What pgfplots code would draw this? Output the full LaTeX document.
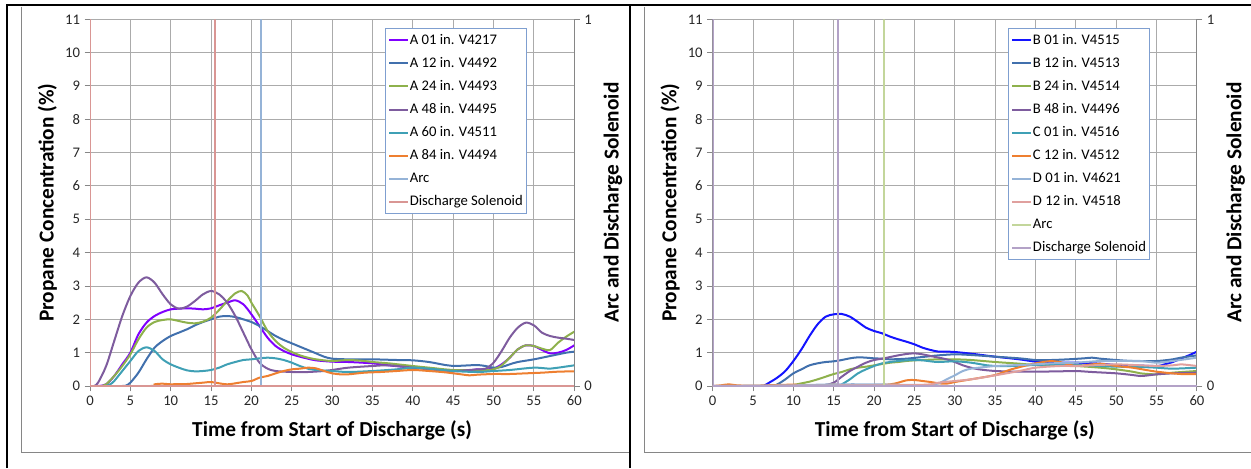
\documentclass[border=0pt]{standalone}
\usepackage{fontspec}
\setmainfont{Carlito}
\usepackage{pgfplots}
\pgfplotsset{compat=1.18}
\definecolor{cA01}{HTML}{8000FF}
\definecolor{cB01}{HTML}{1414FF}
\definecolor{c12}{HTML}{4170AD}
\definecolor{c24}{HTML}{8EB14C}
\definecolor{c48}{HTML}{7E5C9E}
\definecolor{c60}{HTML}{3FA0B5}
\definecolor{c84}{HTML}{EE7F30}
\definecolor{cArcL}{HTML}{95B3D7}
\definecolor{cSolL}{HTML}{D99694}
\definecolor{cD01}{HTML}{95B3D7}
\definecolor{cD12}{HTML}{E0A09E}
\definecolor{cArcR}{HTML}{C3D69B}
\definecolor{cSolR}{HTML}{B3A2C7}
\definecolor{gridc}{HTML}{ABABAB}
\definecolor{axisc}{HTML}{868686}
\definecolor{legc}{HTML}{7F9FD0}
\pgfplotsset{
  panel/.style={anchor=south west, scale only axis, width=363.2pt, height=275pt,
    xmin=0, xmax=60, ymin=0, ymax=11,
    xtick={0,5,...,60}, ytick={0,1,...,11},
    grid=major, grid style={gridc, line width=0.75pt},
    axis x line*=bottom, axis y line*=left,
    axis line style={axisc, line width=0.75pt, -},
    tick align=outside, major tick length=4pt, tick style={axisc, line width=0.75pt},
    ticklabel style={font=\fontsize{11}{13}\selectfont, text=black!85},
    /pgf/number format/assume math mode=true,
    xlabel={Time from Start of Discharge (s)}, ylabel={Propane Concentration (\%)},
    every axis x label/.style={at={(rel axis cs:0.5,0)}, yshift=-33pt, anchor=center,
      font=\fontsize{16}{19}\bfseries\selectfont},
    every axis y label/.style={at={(rel axis cs:0,0.5)}, xshift=-32pt, anchor=center, rotate=90,
      font=\fontsize{16}{19}\bfseries\selectfont},
  },
  sec/.style={anchor=south west, scale only axis, width=363.2pt, height=275pt,
    xmin=0, xmax=60, ymin=0, ymax=1, ytick={0,1},
    axis x line=none, axis y line*=right,
    axis line style={axisc, line width=0.75pt, -},
    tick align=outside, major tick length=4pt, tick style={axisc, line width=0.75pt},
    ticklabel style={font=\fontsize{11}{13}\selectfont, text=black!85},
    /pgf/number format/assume math mode=true,
    ylabel={Arc and Discharge Solenoid},
    every axis y label/.style={at={(rel axis cs:1,0.5)}, xshift=29pt, anchor=center, rotate=90,
      font=\fontsize{16}{19}\bfseries\selectfont},
    legend cell align=left,
    legend image code/.code={\draw[#1] (0pt,0pt) -- (14pt,0pt);},
    legend style={anchor=north west, draw=legc, line width=0.75pt, fill=white,
      inner xsep=2pt, inner ysep=0pt, row sep=0pt,
      font=\fontsize{11}{13}\selectfont,
      nodes={inner xsep=0.8pt, inner ysep=3.4pt, text height=8pt, text depth=2.5pt}},
  },
  data/.style={line width=1.5pt, smooth, tension=0.5},
  step/.style={line width=1.5pt},
}
\begin{document}
\begin{tikzpicture}
\useasboundingbox (0,0) rectangle (938.25pt,351pt);
% ---------------- Left panel ----------------
\begin{axis}[panel, at={(67.5pt,61.5pt)}]
\addplot[data, cA01] coordinates {(0,0)(1,0)(2,0.05)(3,0.3)(4,0.65)(5,1.0)(6,1.55)(7,1.9)(8,2.1)(9,2.22)(10,2.3)(11,2.32)(12,2.33)(13,2.32)(14,2.3)(15,2.33)(16,2.42)(17,2.5)(18,2.57)(19,2.45)(20,2.15)(21,1.8)(22,1.45)(23,1.2)(24,1.05)(25,0.95)(26,0.88)(27,0.82)(28,0.77)(30,0.73)(32,0.72)(35,0.68)(37,0.62)(40,0.55)(42,0.52)(45,0.45)(47,0.47)(48,0.5)(49,0.5)(50,0.52)(51,0.65)(52,0.85)(53,1.1)(54,1.22)(55,1.2)(56,1.08)(57,0.98)(58,1.0)(59,1.08)(60,1.22)};
\addplot[data, c12] coordinates {(0,0)(4,0)(4.5,0.02)(5,0.1)(6,0.4)(7,0.8)(8,1.15)(9,1.35)(10,1.5)(11,1.6)(12,1.7)(13,1.82)(14,1.92)(15,2.0)(16,2.08)(17,2.1)(18,2.07)(19,2.0)(20,1.92)(21,1.8)(22,1.65)(23,1.5)(24,1.38)(25,1.28)(26,1.18)(27,1.08)(28,0.98)(29,0.88)(30,0.82)(32,0.8)(35,0.8)(38,0.78)(40,0.77)(42,0.72)(44,0.63)(45,0.6)(47,0.62)(48,0.63)(49,0.6)(50,0.55)(51,0.57)(52,0.65)(53,0.72)(55,0.8)(57,0.9)(58,0.95)(59,1.0)(60,1.03)};
\addplot[data, c24] coordinates {(0,0)(1.5,0)(2,0.05)(3,0.3)(4,0.6)(5,0.95)(6,1.4)(7,1.75)(8,1.92)(9,1.98)(10,2.0)(11,1.95)(12,1.9)(13,1.88)(14,1.93)(15,2.05)(16,2.28)(17,2.55)(18,2.78)(18.8,2.85)(19.5,2.72)(20,2.5)(21,2.1)(22,1.65)(23,1.35)(24,1.15)(25,1.02)(26,0.92)(27,0.85)(28,0.8)(30,0.75)(32,0.78)(34,0.75)(35,0.72)(37,0.68)(40,0.6)(42,0.55)(45,0.48)(48,0.48)(50,0.5)(51,0.62)(52,0.85)(53,1.1)(54,1.22)(55,1.2)(56,1.12)(57,1.08)(58,1.3)(59,1.48)(60,1.63)};
\addplot[data, c48] coordinates {(0,0)(0.5,0)(1,0.1)(2,0.6)(3,1.35)(4,2.1)(5,2.7)(6,3.1)(7,3.26)(8,3.1)(9,2.75)(10,2.45)(11,2.32)(12,2.38)(13,2.55)(14,2.75)(15,2.85)(16,2.75)(17,2.5)(18,2.1)(19,1.6)(20,1.1)(21,0.7)(22,0.52)(23,0.45)(25,0.42)(27,0.42)(29,0.45)(30,0.48)(32,0.55)(35,0.6)(37,0.62)(40,0.55)(42,0.5)(45,0.45)(47,0.48)(48,0.5)(49,0.52)(50,0.7)(51,1.05)(52,1.45)(53,1.75)(54,1.9)(55,1.82)(56,1.6)(57,1.5)(58,1.45)(59,1.42)(60,1.38)};
\addplot[data, c60] coordinates {(0,0)(2,0)(2.5,0.05)(3,0.15)(4,0.45)(5,0.75)(6,1.05)(7,1.16)(8,1.05)(9,0.8)(10,0.65)(11,0.55)(12,0.47)(13,0.44)(14,0.45)(15,0.48)(16,0.55)(17,0.65)(18,0.72)(19,0.78)(20,0.8)(21,0.83)(22,0.85)(23,0.83)(24,0.78)(25,0.7)(26,0.6)(27,0.52)(28,0.48)(30,0.45)(32,0.42)(35,0.45)(38,0.5)(40,0.55)(42,0.52)(45,0.45)(48,0.42)(50,0.45)(52,0.48)(55,0.55)(57,0.52)(58,0.55)(60,0.62)};
\addplot[data, c84] coordinates {(0,0)(7.5,0)(8,0.05)(9,0.07)(10,0.05)(11,0.06)(12,0.06)(13,0.08)(14,0.1)(15,0.12)(16,0.08)(17,0.05)(18,0.08)(19,0.12)(20,0.15)(21,0.25)(22,0.3)(23,0.38)(24,0.45)(25,0.5)(26,0.52)(27,0.55)(28,0.53)(29,0.45)(30,0.38)(31,0.35)(32,0.35)(34,0.4)(36,0.42)(38,0.45)(40,0.48)(42,0.45)(44,0.41)(46,0.35)(47,0.32)(48,0.34)(50,0.36)(52,0.36)(54,0.38)(56,0.4)(58,0.43)(60,0.44)};
\end{axis}
\begin{axis}[sec, at={(67.5pt,61.5pt)}, legend style={at={(0.609,0.9755)}}]
\addlegendimage{data, cA01}\addlegendentry{A 01 in. V4217}
\addlegendimage{data, c12}\addlegendentry{A 12 in. V4492}
\addlegendimage{data, c24}\addlegendentry{A 24 in. V4493}
\addlegendimage{data, c48}\addlegendentry{A 48 in. V4495}
\addlegendimage{data, c60}\addlegendentry{A 60 in. V4511}
\addlegendimage{data, c84}\addlegendentry{A 84 in. V4494}
\addplot[step, cArcL] coordinates {(0,0)(21.2,0)(21.2,1)(21.2,0)(60,0)};
\addlegendentry{Arc}
\addplot[step, cSolL] coordinates {(0,1)(0,0)(15.5,0)(15.5,1)(15.5,0)(60,0)};
\addlegendentry{Discharge Solenoid}
\end{axis}
% ---------------- Right panel ----------------
\begin{axis}[panel, at={(534.5pt,61.5pt)}]
\addplot[data, cB01] coordinates {(0,0)(6,0)(6.5,0.03)(7,0.1)(8,0.25)(9,0.45)(10,0.75)(11,1.1)(12,1.5)(13,1.85)(14,2.08)(15,2.15)(16,2.16)(17,2.08)(18,1.92)(19,1.75)(20,1.65)(21,1.58)(22,1.48)(23,1.4)(24,1.33)(25,1.25)(26,1.15)(27,1.08)(28,1.03)(29,1.03)(30,1.02)(32,0.97)(35,0.88)(38,0.8)(40,0.73)(42,0.7)(45,0.7)(48,0.67)(50,0.63)(52,0.62)(55,0.6)(56,0.65)(57,0.72)(58,0.82)(59,0.92)(60,1.03)};
\addplot[data, c12] coordinates {(0,0)(7,0)(8,0.05)(9,0.2)(10,0.38)(11,0.5)(12,0.62)(13,0.68)(14,0.72)(15,0.74)(16,0.78)(17,0.83)(18,0.86)(19,0.85)(20,0.83)(21,0.82)(22,0.8)(24,0.82)(26,0.87)(28,0.92)(30,0.95)(32,0.93)(35,0.88)(38,0.83)(40,0.78)(42,0.78)(44,0.8)(46,0.83)(47,0.85)(48,0.82)(50,0.78)(52,0.75)(55,0.75)(57,0.8)(58,0.85)(60,0.92)};
\addplot[data, c24] coordinates {(0,0)(9,0)(10,0.03)(11,0.08)(12,0.13)(13,0.2)(14,0.28)(15,0.36)(16,0.42)(17,0.5)(18,0.55)(19,0.58)(20,0.62)(21,0.66)(22,0.7)(23,0.72)(24,0.75)(25,0.77)(26,0.78)(28,0.8)(30,0.8)(32,0.78)(35,0.72)(38,0.67)(40,0.63)(42,0.62)(45,0.6)(48,0.55)(50,0.5)(52,0.43)(53,0.38)(55,0.35)(57,0.4)(60,0.45)};
\addplot[data, c48] coordinates {(0,0)(13,0)(14,0.03)(15,0.1)(16,0.28)(17,0.45)(18,0.58)(19,0.7)(20,0.78)(21,0.82)(22,0.87)(23,0.92)(24,0.96)(25,0.98)(26,0.95)(27,0.9)(28,0.85)(29,0.8)(30,0.72)(31,0.62)(32,0.55)(33,0.5)(35,0.45)(38,0.43)(40,0.43)(43,0.44)(45,0.45)(47,0.42)(50,0.38)(52,0.33)(53,0.3)(54,0.32)(55,0.35)(57,0.38)(60,0.4)};
\addplot[data, c60] coordinates {(0,0)(15.5,0)(16,0.05)(17,0.2)(18,0.38)(19,0.5)(20,0.6)(21,0.68)(22,0.72)(23,0.75)(24,0.77)(25,0.78)(26,0.77)(27,0.74)(28,0.72)(30,0.74)(32,0.7)(34,0.62)(35,0.6)(37,0.6)(40,0.63)(43,0.65)(45,0.63)(48,0.6)(50,0.58)(53,0.57)(55,0.55)(57,0.52)(60,0.55)};
\addplot[data, c84] coordinates {(0,0)(1,0.02)(2,0.05)(3,0.02)(5,0.01)(8,0.03)(10,0.04)(12,0.02)(14,0.03)(15,0.05)(16,0.02)(18,0.02)(20,0.03)(22,0.05)(23,0.1)(24,0.17)(25,0.18)(26,0.15)(27,0.12)(28,0.08)(29,0.07)(30,0.12)(32,0.2)(35,0.33)(37,0.5)(40,0.68)(42,0.75)(43,0.72)(45,0.6)(47,0.65)(48,0.67)(50,0.6)(52,0.55)(55,0.43)(58,0.36)(60,0.36)};
\addplot[data, cD01] coordinates {(0,0)(5,0.01)(10,0.02)(15,0.05)(20,0.05)(25,0.03)(27,0.03)(28,0.08)(29,0.2)(30,0.32)(31,0.45)(32,0.52)(33,0.55)(35,0.6)(37,0.62)(40,0.65)(42,0.68)(45,0.7)(48,0.75)(50,0.75)(53,0.75)(55,0.7)(57,0.75)(60,0.85)};
\addplot[data, cD12] coordinates {(0,0)(20,0.02)(25,0.03)(27,0.05)(28,0.1)(30,0.15)(32,0.2)(35,0.32)(38,0.45)(40,0.55)(43,0.6)(45,0.6)(48,0.63)(50,0.65)(53,0.62)(55,0.6)(57,0.62)(58,0.65)(60,0.6)};
\end{axis}
\begin{axis}[sec, at={(534.5pt,61.5pt)}, legend style={at={(0.610,0.9755)}}]
\addlegendimage{data, cB01}\addlegendentry{B 01 in. V4515}
\addlegendimage{data, c12}\addlegendentry{B 12 in. V4513}
\addlegendimage{data, c24}\addlegendentry{B 24 in. V4514}
\addlegendimage{data, c48}\addlegendentry{B 48 in. V4496}
\addlegendimage{data, c60}\addlegendentry{C 01 in. V4516}
\addlegendimage{data, c84}\addlegendentry{C 12 in. V4512}
\addlegendimage{data, cD01}\addlegendentry{D 01 in. V4621}
\addlegendimage{data, cD12}\addlegendentry{D 12 in. V4518}
\addplot[step, cArcR] coordinates {(0,0)(21.2,0)(21.2,1)(21.2,0)(60,0)};
\addlegendentry{Arc}
\addplot[step, cSolR] coordinates {(0,1)(0,0)(15.5,0)(15.5,1)(15.5,0)(60,0)};
\addlegendentry{Discharge Solenoid}
\end{axis}
% ---------------- frames ----------------
\draw[axisc, line width=0.75pt] (16.3pt,346pt) -- (16.3pt,11.5pt) -- (472pt,11.5pt);
\draw[axisc, line width=0.75pt] (483.2pt,346pt) -- (483.2pt,11.5pt) -- (938.25pt,11.5pt);
\draw[black, line width=1.5pt] (5pt,0pt) -- (5pt,346.9pt) -- (938.25pt,346.9pt);
\draw[black, line width=2pt] (472.5pt,0pt) -- (472.5pt,346.9pt);
\end{tikzpicture}
\end{document}
